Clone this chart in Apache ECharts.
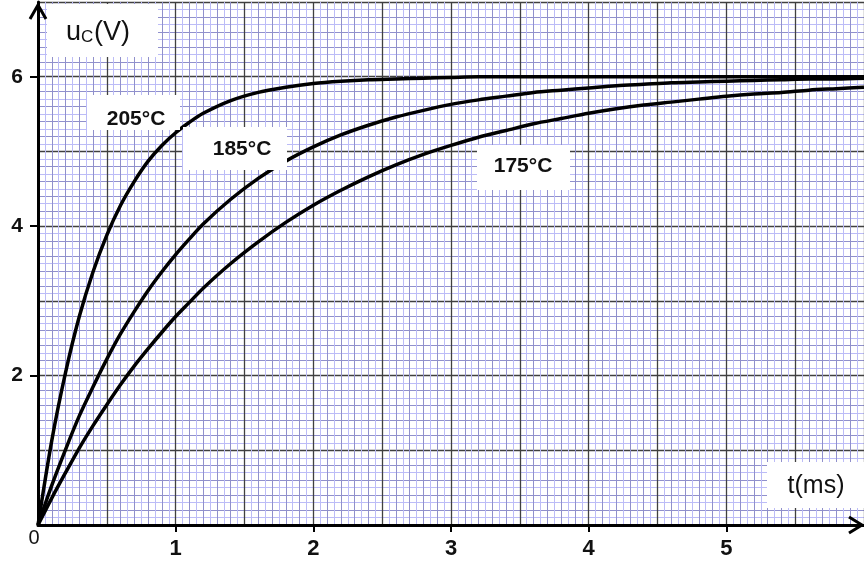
<!DOCTYPE html>
<html>
<head>
<meta charset="utf-8">
<script src="https://cdn.jsdelivr.net/npm/echarts@6/dist/echarts.min.js"></script>
<style>
  html, body { margin: 0; padding: 0; background: #ffffff; }
  #chart { width: 864px; height: 562px; }
</style>
</head>
<body>
<div id="chart"></div>
<script>
// Capacitor charging voltage u_C(t) at three temperatures
const tMs = [0, 0.1, 0.2, 0.3, 0.4, 0.5, 0.6, 0.7, 0.8, 0.9, 1.0, 1.1, 1.2,
             1.4, 1.6, 1.8, 2.0, 2.2, 2.4, 2.6, 2.8, 3.0, 3.2, 3.4, 3.6, 3.8, 4.0,
             4.2, 4.4, 4.6, 4.8, 5.0, 5.2, 5.4, 5.6, 5.8, 6.0];
const u205 = [0, 1.13, 2.04, 2.79, 3.39, 3.88, 4.28, 4.60, 4.87, 5.08, 5.25, 5.39, 5.51,
              5.68, 5.79, 5.86, 5.91, 5.94, 5.96, 5.97, 5.98, 5.99, 6.00, 6.00, 6.00, 6.00, 6.00,
              6.00, 6.00, 6.00, 6.00, 6.00, 6.00, 6.00, 6.00, 6.00, 6.00];
const u185 = [0, 0.53, 1.01, 1.46, 1.85, 2.22, 2.56, 2.86, 3.14, 3.39, 3.62, 3.83, 4.03,
              4.36, 4.64, 4.87, 5.06, 5.22, 5.35, 5.46, 5.55, 5.63, 5.69, 5.74, 5.79, 5.82, 5.85,
              5.88, 5.90, 5.92, 5.93, 5.94, 5.95, 5.96, 5.97, 5.97, 5.98];
const u175 = [0, 0.36, 0.70, 1.03, 1.33, 1.61, 1.88, 2.13, 2.36, 2.58, 2.79, 2.98, 3.17,
              3.50, 3.79, 4.05, 4.28, 4.48, 4.66, 4.82, 4.96, 5.08, 5.19, 5.28, 5.37, 5.44, 5.51,
              5.57, 5.62, 5.66, 5.70, 5.74, 5.77, 5.79, 5.82, 5.84, 5.86];
const seriesNames = ['205°C', '185°C', '175°C'];
const xTickLabels = [1, 2, 3, 4, 5];
const yTickLabels = [2, 4, 6];

const FONT = 'Liberation Sans';
const X_MAX = 6, Y_MAX = 7;

// helper: an axis that only draws grid lines (graph paper)
function paperAxis(interval, color, width) {
  return {
    type: 'value', min: 0, interval: interval,
    axisLine: { show: false }, axisTick: { show: false }, axisLabel: { show: false },
    splitLine: { show: true, lineStyle: { color: color, width: width } }
  };
}

const FINE = '#bcbcf7', MID = '#9090cc', MAJOR = '#404040';

const xAxes = [
  {
    type: 'value', min: 0, max: X_MAX, interval: 1, z: 6,
    axisLine: { show: true, onZero: false, lineStyle: { color: '#000', width: 3 } },
    axisTick: { show: true, length: 7, customValues: xTickLabels, lineStyle: { color: '#000', width: 2 } },
    axisLabel: { show: true, customValues: xTickLabels, margin: 13, fontSize: 22, fontWeight: 'bold', color: '#111', fontFamily: FONT },
    splitLine: { show: false }
  },
  Object.assign(paperAxis(0.05, FINE, 1), { max: X_MAX }),
  Object.assign(paperAxis(0.1, MID, 1), { max: X_MAX }),
  Object.assign(paperAxis(0.5, MAJOR, 1.3), { max: X_MAX }),
  {
    type: 'value', min: 0, max: X_MAX, interval: 1, z: 6,
    axisLine: { show: false },
    axisTick: { show: true, inside: true, length: 7, customValues: xTickLabels, lineStyle: { color: '#000', width: 2 } },
    axisLabel: { show: false }, splitLine: { show: false }
  }
];

const yAxes = [
  {
    type: 'value', min: 0, max: Y_MAX, interval: 2, z: 6,
    axisLine: { show: true, onZero: false, lineStyle: { color: '#000', width: 3 } },
    axisTick: { show: true, length: 8, customValues: yTickLabels, lineStyle: { color: '#000', width: 2 } },
    axisLabel: { show: true, customValues: yTickLabels, margin: 15, fontSize: 21, fontWeight: 'bold', color: '#111', fontFamily: FONT },
    splitLine: { show: false }
  },
  Object.assign(paperAxis(0.1, FINE, 1), { max: Y_MAX }),
  Object.assign(paperAxis(0.2, MID, 1), { max: Y_MAX }),
  Object.assign(paperAxis(1, MAJOR, 1.3), { max: Y_MAX })
];

function pairs(ys) { return tMs.map((t, i) => [t, ys[i]]); }

const curveStyle = { color: '#000', width: 3.5 };
const chart = echarts.init(document.getElementById('chart'), null, { renderer: 'canvas' });

chart.setOption({
  animation: false,
  backgroundColor: '#ffffff',
  grid: { left: 38, right: -7, top: 2, bottom: 37, containLabel: false },
  xAxis: xAxes,
  yAxis: yAxes,
  series: [u205, u185, u175].map((ys, i) => ({
    name: seriesNames[i], type: 'line', data: pairs(ys),
    xAxisIndex: 0, yAxisIndex: 0, z: 10,
    showSymbol: false, symbol: 'none', smooth: 0.3,
    lineStyle: curveStyle
  }))
});

function txt(x, y, text, size, weight, align) {
  return {
    type: 'text', z: 21, x: x, y: y,
    style: { text: text, fontSize: size, fontWeight: weight, fontFamily: FONT, fill: '#111',
             align: align || 'center', verticalAlign: 'middle' }
  };
}

// white label boxes
function labelBox(x, y, w, h, text, size, weight, cx, cy) {
  const items = [{ type: 'rect', z: 20, shape: { x: x, y: y, width: w, height: h }, style: { fill: '#fff' } }];
  if (text) items.push(txt(cx, cy, text, size, weight));
  return items;
}

const o = chart.convertToPixel({ xAxisIndex: 0, yAxisIndex: 0 }, [0, 0]);

const graphics = [].concat(
  labelBox(47, 4, 111, 53),
  [
    txt(66, 33, 'u', 27, 'normal', 'left'),
    txt(81, 37, 'C', 17, 'normal', 'left'),
    txt(94, 33, '(V)', 27, 'normal', 'left')
  ],
  labelBox(87, 95, 93, 35, seriesNames[0], 21, 'bold', 136, 119),
  labelBox(183, 127, 104, 43, seriesNames[1], 21, 'bold', 242, 149),
  labelBox(477, 145, 93, 45, seriesNames[2], 21, 'bold', 523, 166),
  labelBox(767, 462, 97, 46, 't(ms)', 25, 'normal', 816, 486),
  [
    // origin label
    txt(o[0] - 4, o[1] + 13, '0', 20, 'normal'),
    // arrow heads on both axes
    { type: 'polyline', z: 22, shape: { points: [[o[0] - 8, 19], [o[0], 5], [o[0] + 8, 19]] }, style: { stroke: '#000', lineWidth: 3, fill: null } },
    { type: 'polyline', z: 22, shape: { points: [[849, o[1] - 8], [862, o[1]], [849, o[1] + 8]] }, style: { stroke: '#000', lineWidth: 3, fill: null } }
  ]
);

chart.setOption({ graphic: graphics });
</script>
</body>
</html>
